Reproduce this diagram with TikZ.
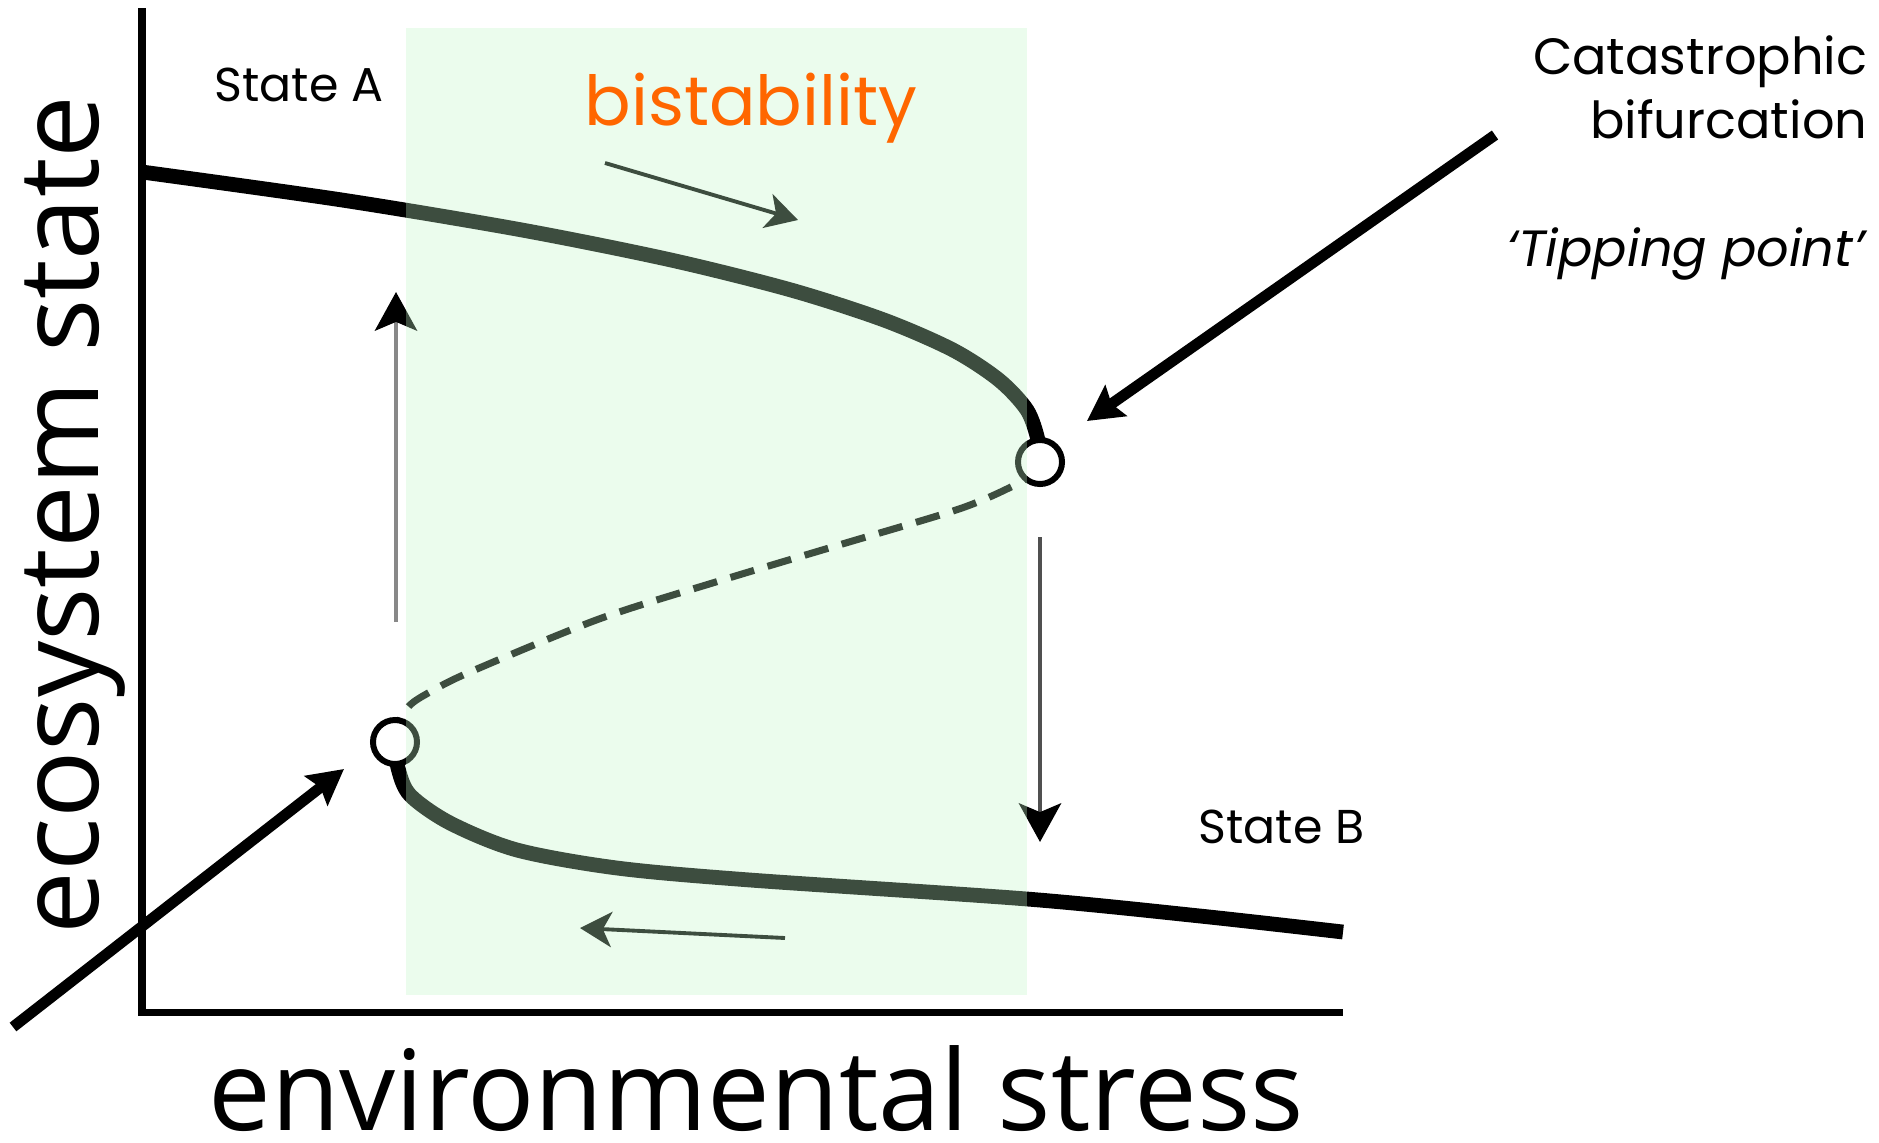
\documentclass[tikz,border=0pt]{standalone}
\usepackage{fontspec}
\usepackage{tikz}
\usetikzlibrary{arrows.meta, positioning}
\newfontfamily\geofont{Poppins}
\newfontfamily\axisfont{Open Sans}
\definecolor{ovlgreen}{RGB}{193,244,199}
\definecolor{bistorange}{RGB}{255,102,0}
\definecolor{upgray}{RGB}{136,136,136}
\definecolor{downgray}{RGB}{80,80,80}

\begin{document}
\begin{tikzpicture}[x=0.01cm, y=-0.01cm,
    branch/.style={line width=4.2pt},
    fold/.style={circle, draw, fill=white, line width=1.7pt, minimum size=0.44cm, inner sep=0pt},
    txt/.style={inner sep=0pt, font=\geofont\fontsize{13.5}{16}\selectfont},
    bigtxt/.style={inner sep=0pt, anchor=base east, font=\geofont\fontsize{14.5}{17}\selectfont},
    axislab/.style={inner sep=0pt, text depth=0pt, font=\axisfont\fontsize{31.8}{36}\selectfont},
    bigarrow/.style={line width=3.1pt, -{Stealth[length=10pt, width=10.5pt, inset=1.5pt]}},
    jump/.style={line width=1.3pt, -{Stealth[length=11pt, width=12pt, inset=2.5pt, color=black]}},
    drift/.style={line width=1.1pt, -{Stealth[length=9pt, width=10pt, inset=2.5pt]}}]
    \useasboundingbox (0,0) rectangle (1879,1142);

    \coordinate (ytop) at (142,8);
    \coordinate (origin) at (142,1012);
    \coordinate (xend) at (1343,1012);
    \draw[line width=2pt] (ytop) -- (origin) -- (xend);

    \draw[branch] plot[smooth] coordinates {(142,172) (342,200) (522,230) (671,260) (791,290) (884,320) (953,350) (999,380) (1027,410) (1038,440) (1040,462)};
    \draw[line width=2pt, dash pattern=on 7pt off 4pt] plot[smooth] coordinates {(395,742) (399,722) (410,705) (430,692) (470,672) (599,619) (719,581) (839,545) (959,509) (1013,486) (1031,474) (1040,462)};
    \draw[branch] plot[smooth] coordinates {(395,742) (398,768) (410,795) (450,823) (517,850) (617,868) (750,880) (1027,899) (1200,916) (1343,932)};

    \node[fold] (foldhi) at (1040,462) {};
    \node[fold] (foldlo) at (395,742) {};

    \coordinate (upfrom) at (396,622);
    \coordinate (upto) at (396,292);
    \coordinate (downfrom) at (1040,537);
    \coordinate (downto) at (1040,842);
    \draw[jump, upgray] (upfrom) -- (upto);
    \draw[jump, downgray] (downfrom) -- (downto);

    \coordinate (hifrom) at (605,163);
    \coordinate (hito) at (798,220);
    \coordinate (lofrom) at (785,938);
    \coordinate (loto) at (580,928);
    \draw[drift] (hifrom) -- (hito);
    \draw[drift] (lofrom) -- (loto);

    \node[txt, anchor=base west] (stateA) at (214,101) {State A};
    \node[txt, anchor=base west] (stateB) at (1198,843) {State B};
    \node[bigtxt] (cat) at (1868,74) {Catastrophic};
    \node[bigtxt] (bif) at (1868,138) {bifurcation};
    \node[bigtxt, font=\geofont\itshape\fontsize{14.5}{17}\selectfont] (tip) at (1865,266) {‘Tipping point’};

    \node[axislab, anchor=base] (xlab) at (756,1130) {environmental stress};
    \node[axislab, anchor=base, rotate=90] (ylab) at (98,515) {ecosystem state};

    \coordinate (cattail) at (1495,135);
    \coordinate (cathead) at (1087,421);
    \coordinate (lotail) at (13,1027);
    \coordinate (lohead) at (344,769);
    \draw[bigarrow] (cattail) -- (cathead);
    \draw[bigarrow] (lotail) -- (lohead);

    \fill[ovlgreen, fill opacity=0.316] (406,28) rectangle (1027,995);

    \node[txt, anchor=base west, text=bistorange, font=\geofont\fontsize{19.6}{23}\selectfont] (bist) at (584,125) {bistability};
\end{tikzpicture}
\end{document}
